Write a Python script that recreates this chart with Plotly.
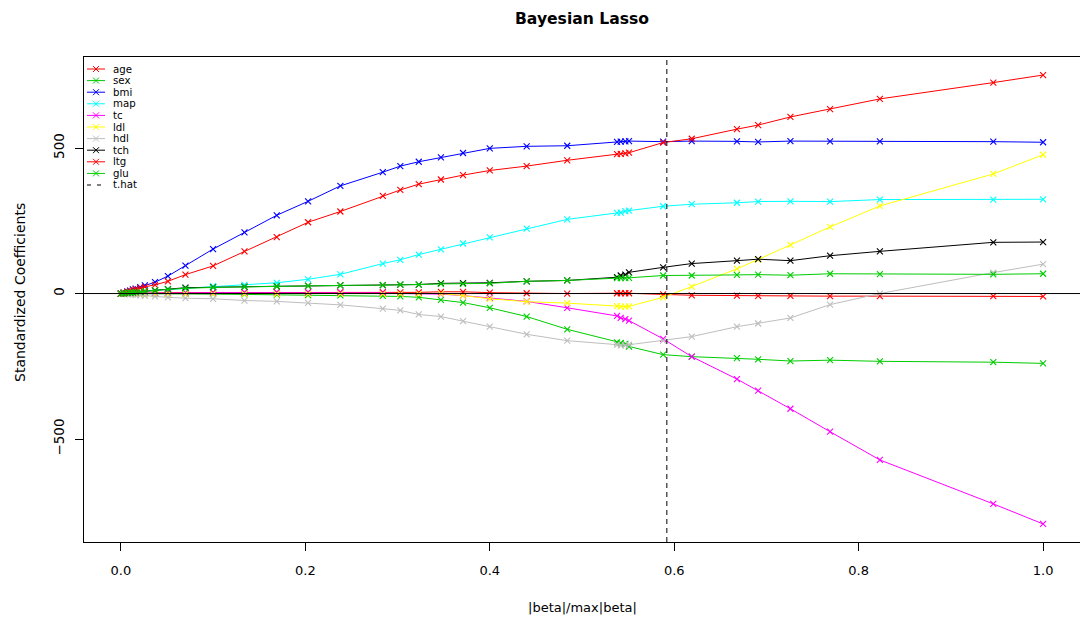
import plotly.graph_objects as go

# Shrinkage fraction |beta|/max|beta| at each step of the path
frac = [0.000, 0.003, 0.007, 0.010, 0.013, 0.016, 0.021, 0.026, 0.037, 0.051,
        0.070, 0.100, 0.134, 0.169, 0.203, 0.238, 0.284, 0.303, 0.323, 0.347,
        0.371, 0.400, 0.440, 0.484, 0.538, 0.542, 0.547, 0.551, 0.588, 0.619,
        0.668, 0.691, 0.726, 0.769, 0.823, 0.946, 1.000]

# Standardized coefficient paths
age = [0, 0, 0, 1, 1, 1, 1, 2, 2, 3, 3, 4, 4, 5, 5, 5, 5, 4, 4, 6,
       6, 3, 1, 0, 1, 1, 1, 1, -3, -6, -7, -8, -8, -9, -9, -9, -10]
sex = [0, 0, 0, 0, 0, 0, 0, -1, -1, -1, -1, -2, -3, -4, -5, -6, -8, -10, -13, -22,
       -31, -49, -79, -123, -168, -170, -173, -182, -210, -217, -222, -226, -232, -229, -233, -236, -240]
bmi = [0, 3, 7, 10, 14, 17, 22, 28, 39, 60, 96, 153, 210, 269, 317, 370, 417, 438, 453, 468,
       483, 499, 506, 508, 521, 522, 523, 524, 522, 524, 523, 521, 524, 523, 523, 522, 520]
map_ = [0, 1, 2, 3, 4, 5, 6, 8, 11, 14, 18, 25, 30, 37, 49, 66, 103, 116, 134, 152,
        172, 193, 223, 255, 277, 278, 283, 285, 300, 307, 312, 316, 317, 316, 323, 323, 324]
tc = [0, 0, 0, 0, 1, 1, 1, 1, 2, 2, 2, 3, 3, 4, 4, 3, 2, 0, 0, -2,
      -7, -15, -27, -49, -77, -84, -88, -93, -156, -217, -294, -334, -396, -475, -572, -723, -792]
ldl = [0, 0, 0, 0, 0, 0, 0, -1, -1, -1, -1, -1, -1, -1, -1, -1, -1, -1, -1, 0,
       -7, -18, -28, -33, -43, -45, -45, -44, -13, 24, 85, 117, 167, 229, 301, 411, 477]
hdl = [0, -1, -2, -3, -4, -5, -6, -8, -10, -13, -16, -18, -24, -27, -32, -39, -52, -58, -72, -79,
       -95, -114, -140, -162, -176, -178, -178, -176, -162, -148, -114, -103, -84, -38, 0, 72, 101]
tch = [0, 1, 2, 3, 4, 5, 6, 8, 11, 15, 20, 22, 24, 25, 26, 28, 29, 31, 31, 35,
       36, 37, 42, 45, 56, 62, 65, 73, 90, 103, 113, 118, 113, 130, 145, 176, 177]
ltg = [0, 3, 6, 9, 12, 15, 19, 23, 30, 42, 65, 95, 145, 194, 245, 282, 336, 356, 376, 392,
       407, 423, 438, 458, 479, 480, 482, 484, 519, 532, 565, 579, 607, 634, 669, 725, 751]
glu = [0, 1, 2, 3, 4, 5, 6, 8, 11, 14, 18, 21, 23, 25, 26, 28, 29, 31, 31, 33,
       33, 35, 42, 45, 53, 53, 53, 54, 62, 62, 64, 65, 63, 68, 67, 66, 68]

names = ["age", "sex", "bmi", "map", "tc", "ldl", "hdl", "tch", "ltg", "glu"]
paths = [age, sex, bmi, map_, tc, ldl, hdl, tch, ltg, glu]
colors = ["#FF0000", "#00CD00", "#0000FF", "#00FFFF", "#FF00FF",
          "#FFFF00", "#BEBEBE", "#000000", "#FF0000", "#00CD00"]

t_hat = 0.592
x_ticks = [0.0, 0.2, 0.4, 0.6, 0.8, 1.0]
y_ticks = [-500, 0, 500]

W, H = 1080, 621
ML, MR, MT, MB = 84, 0, 57, 79
PW, PH = W - ML - MR, H - MT - MB
FONT = "DejaVu Sans"


def px_x(p):
    return (p - ML) / PW


def px_y(p):
    return (H - MB - p) / PH


fig = go.Figure()
for name, ys, col in zip(names, paths, colors):
    fig.add_trace(go.Scatter(
        x=frac, y=ys, name=name, mode="lines+markers",
        line=dict(color=col, width=1),
        marker=dict(symbol="x-thin", size=6, line=dict(color=col, width=1.1)),
        showlegend=False,
    ))

shapes = [
    # zero reference line
    dict(type="line", xref="paper", yref="y", x0=0, x1=1, y0=0, y1=0,
         line=dict(color="black", width=1)),
    # selected shrinkage
    dict(type="line", xref="x", yref="paper", x0=t_hat, x1=t_hat, y0=0, y1=1,
         line=dict(color="black", width=1, dash="5px,4px")),
]
annotations = []

# hand-drawn legend box in the upper-left corner
row0, step = 69.0, 11.6
for i, (name, col) in enumerate(zip(names + ["t.hat"], colors + ["black"])):
    yy = px_y(row0 + i * step)
    if name == "t.hat":
        shapes.append(dict(type="line", xref="paper", yref="paper",
                           x0=px_x(87), x1=px_x(105), y0=yy, y1=yy,
                           line=dict(color="black", width=1, dash="4px,6px")))
    else:
        shapes.append(dict(type="line", xref="paper", yref="paper",
                           x0=px_x(87), x1=px_x(105), y0=yy, y1=yy,
                           line=dict(color=col, width=1)))
        for d in (1, -1):
            shapes.append(dict(type="line", xref="paper", yref="paper",
                               x0=px_x(93), x1=px_x(99),
                               y0=yy + d * 3 / PH, y1=yy - d * 3 / PH,
                               line=dict(color=col, width=1)))
    annotations.append(dict(text=name, xref="paper", yref="paper",
                            x=px_x(111), y=yy, xanchor="left", yanchor="middle",
                            showarrow=False, font=dict(family=FONT, size=10.2, color="black")))

annotations.append(dict(text="|beta|/max|beta|", xref="paper", yref="paper",
                        x=px_x(582), y=px_y(607), xanchor="center", yanchor="middle",
                        showarrow=False, font=dict(family=FONT, size=13, color="black")))
annotations.append(dict(text="Standardized Coefficients", xref="paper", yref="paper",
                        x=px_x(20), y=px_y(293), xanchor="center", yanchor="middle",
                        textangle=-90, showarrow=False,
                        font=dict(family=FONT, size=14, color="black")))

fig.update_layout(
    width=W, height=H,
    margin=dict(l=ML, r=MR, t=MT, b=MB),
    paper_bgcolor="white", plot_bgcolor="white",
    title=dict(text="<b>Bayesian Lasso</b>", x=px_x(582), xref="paper",
               y=1 - 19 / H, yref="container", xanchor="center", yanchor="middle",
               font=dict(family=FONT, size=15.6, color="black")),
    xaxis=dict(range=[-0.04, 1.04], tickvals=x_ticks, tickformat=".1f",
               ticks="outside", ticklen=8, tickcolor="black", tickwidth=1,
               showline=True, linecolor="black", linewidth=1, mirror=True,
               showgrid=False, zeroline=False, ticklabelstandoff=8,
               tickfont=dict(family=FONT, size=13, color="black")),
    yaxis=dict(range=[-854, 813], tickvals=y_ticks,
               ticktext=["\u2212500", "0", "500"],
               ticks="outside", ticklen=8, tickcolor="black", tickwidth=1,
               tickangle=-90, showline=True, linecolor="black", linewidth=1,
               showgrid=False, zeroline=False, ticklabelstandoff=6,
               tickfont=dict(family=FONT, size=13.5, color="black")),
    shapes=shapes, annotations=annotations,
)

fig.write_html("out.html")
